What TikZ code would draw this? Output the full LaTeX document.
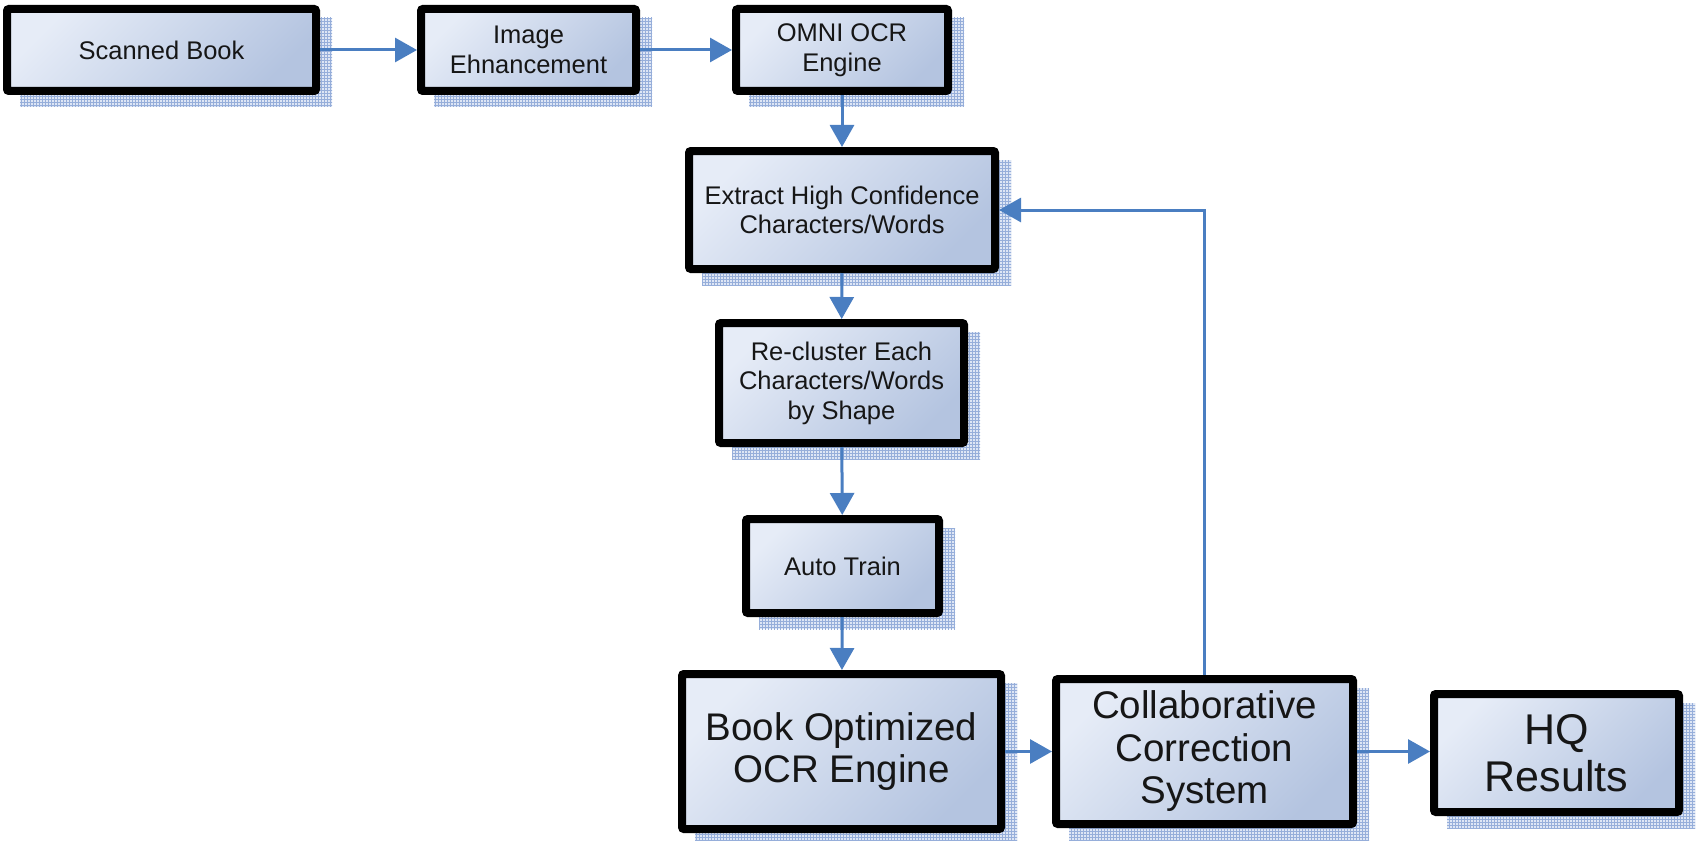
\documentclass[tikz,border=0pt]{standalone}
\usepackage{fontspec}
\setmainfont{Liberation Sans}
\usetikzlibrary{arrows.meta,patterns,backgrounds,calc}

\definecolor{flowblue}{RGB}{74,126,193}
\definecolor{boxlight}{RGB}{230,236,247}
\definecolor{boxdark}{RGB}{180,196,224}
\definecolor{shadowfill}{RGB}{222,230,245}
\definecolor{shadowgrid}{RGB}{150,174,218}
\definecolor{inkdark}{RGB}{22,22,22}

\begin{document}
\begin{tikzpicture}[x=1pt,y=-1pt,
  stage/.style={draw=black, line width=8pt, rounded corners=2pt,
    top color=boxlight, bottom color=boxdark, shading angle=45,
    text=inkdark, align=center, inner sep=0pt},
  smalltext/.style={font=\fontsize{25.5}{29.5}\selectfont},
  bigtext/.style={font=\fontsize{38.5}{42.5}\selectfont},
  hugetext/.style={font=\fontsize{43}{47}\selectfont},
  flow/.style={draw=flowblue, line width=3pt,
    -{Triangle[length=22pt,width=24pt]}},
  boxshadow/.style={fill=shadowfill},
  boxgrid/.style={pattern=grid, pattern color=shadowgrid}]

\useasboundingbox (0,0) rectangle (1696,840);

% process stages
\node[stage, smalltext, minimum width=309, minimum height=82] (scan) at (161.5,50) {Scanned Book};
\node[stage, smalltext, minimum width=215, minimum height=82] (img) at (528.5,50) {Image\\Ehnancement};
\node[stage, smalltext, minimum width=212, minimum height=82] (omni) at (842,50) {OMNI OCR\\Engine};
\node[stage, smalltext, minimum width=306, minimum height=118] (extract) at (842,210) {Extract High Confidence\\Characters/Words};
\node[stage, smalltext, minimum width=245, minimum height=120] (recl) at (841.5,383) {Re-cluster Each\\Characters/Words\\by Shape};
\node[stage, smalltext, minimum width=193, minimum height=94] (auto) at (842.5,566) {Auto Train};
\node[stage, bigtext, minimum width=319, minimum height=155] (book) at (841.5,751.5) {Book Optimized\\OCR Engine};
\node[stage, bigtext, minimum width=297, minimum height=145] (collab) at (1204.5,751.5) {Collaborative\\Correction\\System};
\node[stage, hugetext, minimum width=245, minimum height=118] (hq) at (1556.5,753) {HQ\\Results};

% hatched drop shadows behind every stage
\begin{scope}[on background layer]
  \foreach \n in {scan,img,omni,extract,recl,auto,book,collab,hq}{
    \fill[boxshadow] ($(\n.north west)+(17,13)$) rectangle ($(\n.south east)+(12,12)$);
    \fill[boxgrid] ($(\n.north west)+(17,13)$) rectangle ($(\n.south east)+(12,12)$);
  }
\end{scope}

% connectors
\draw[flow] (scan) -- (img);
\draw[flow] (img) -- (omni);
\draw[flow] (omni) -- (extract);
\draw[flow] (extract) -- (recl);
\draw[flow] (recl) -- (auto);
\draw[flow] (auto) -- (book);
\draw[flow] (book) -- (collab);
\draw[flow] (collab.east) -- (collab.east -| hq.west);
\draw[flow] (collab.north) |- (extract.east);

\end{tikzpicture}
\end{document}
